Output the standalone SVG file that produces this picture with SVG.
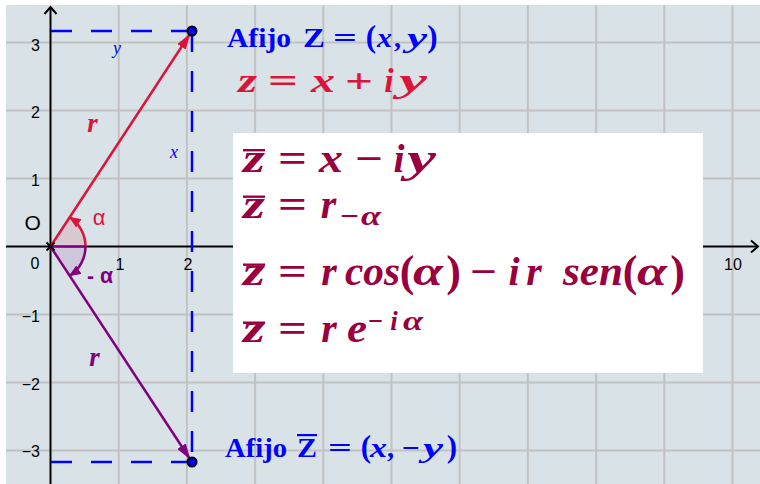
<svg xmlns="http://www.w3.org/2000/svg" width="760" height="484" viewBox="0 0 760 484">
<defs>
<style>
.grid{stroke:#c2c2c2;stroke-width:2;fill:none}
.axis{stroke:#000;stroke-width:2;fill:none}
.dash{stroke:#0000ff;stroke-width:2.5;fill:none;stroke-dasharray:21 19}
.ax{font-family:"Liberation Sans",Arial,sans-serif;font-size:16px;fill:#000}
.m{font-family:"Liberation Serif","Times New Roman",serif;font-weight:bold;font-style:italic}
.u{font-family:"Liberation Serif","Times New Roman",serif;font-weight:bold;font-style:normal}
.c{text-anchor:middle}
.blue{fill:#0000ff}
.red{fill:#dc143c}
.dk{fill:#99003d}
.pur{fill:#800080}
</style>
<marker id="ahR" viewBox="0 0 16 10" refX="15" refY="5" markerWidth="16" markerHeight="10" markerUnits="userSpaceOnUse" orient="auto"><path d="M0,0 L16,5 L0,10 Z" fill="#dc143c"/></marker>
<marker id="ahP" viewBox="0 0 16 10" refX="15" refY="5" markerWidth="16" markerHeight="10" markerUnits="userSpaceOnUse" orient="auto"><path d="M0,0 L16,5 L0,10 Z" fill="#800080"/></marker>
<marker id="arR" viewBox="0 0 12 10" refX="11" refY="5" markerWidth="12" markerHeight="10" markerUnits="userSpaceOnUse" orient="auto"><path d="M0,0 L12,5 L0,10 Z" fill="#dc143c"/></marker>
<marker id="arP" viewBox="0 0 12 10" refX="11" refY="5" markerWidth="12" markerHeight="10" markerUnits="userSpaceOnUse" orient="auto"><path d="M0,0 L12,5 L0,10 Z" fill="#800080"/></marker>
</defs>
<rect x="0" y="0" width="760" height="484" fill="#ffffff"/>
<rect x="6" y="5" width="754" height="479" fill="#d9e3e7"/>
<g id="grid" class="grid">
<path d="M118.7,5V484M186.9,5V484M255.1,5V484M323.3,5V484M391.5,5V484M459.7,5V484M527.9,5V484M596.1,5V484M664.3,5V484M732.5,5V484"/>
<path d="M6,42.5H760M6,110.5H760M6,178.5H760M6,314.5H760M6,382.5H760M6,450.5H760"/>
</g>
<g id="angle-sectors">
<path d="M50.5,246.5 L85.5,246.5 A35,35 0 0,0 69.7,217.2 Z" fill="#dc143c" fill-opacity="0.12"/>
<path d="M50.5,246.5 L85.5,246.5 A35,35 0 0,1 69.7,275.8 Z" fill="#800080" fill-opacity="0.12"/>
</g>
<g id="axes">
<path class="axis" d="M6,246.5H758"/>
<path class="axis" d="M751,240.5 L758,246.5 L751,252.5"/>
<path class="axis" d="M50.5,484V7"/>
<path class="axis" d="M44.5,14 L50.5,7 L56.5,14"/>
<g class="ax">
<text x="40" y="51" text-anchor="end">3</text>
<text x="40" y="118" text-anchor="end">2</text>
<text x="40" y="186" text-anchor="end">1</text>
<text x="40" y="322" text-anchor="end">−1</text>
<text x="40" y="390" text-anchor="end">−2</text>
<text x="40" y="457" text-anchor="end">−3</text>
<text x="35" y="269" class="c">0</text>
<text x="120" y="270" class="c">1</text>
<text x="188" y="270" class="c">2</text>
<text x="733" y="270" class="c">10</text>
<text x="24.5" y="230" style="font-size:21px">O</text>
</g>
</g>
<g id="connectors">
<path class="dash" d="M192,31H50.5"/>
<path class="dash" d="M192,31V462"/>
<path class="dash" d="M192,462H50.5"/>
<line x1="50.5" y1="246.5" x2="189.8" y2="34.3" stroke="#dc143c" stroke-width="2.5" marker-end="url(#ahR)"/>
<line x1="50.5" y1="246.5" x2="189.8" y2="458.7" stroke="#800080" stroke-width="2.5" marker-end="url(#ahP)"/>
<path d="M85.5,246.5 A35,35 0 0,0 69.7,217.2" fill="none" stroke="#dc143c" stroke-width="2.5" marker-end="url(#arR)"/>
<path d="M85.5,246.5 A35,35 0 0,1 69.7,275.8" fill="none" stroke="#800080" stroke-width="2.5" marker-end="url(#arP)"/>
<line x1="52" y1="246.5" x2="85.5" y2="246.5" stroke="#800080" stroke-width="2"/>
</g>
<g id="origin">
<path d="M46.5,242.5L54.5,250.5M54.5,242.5L46.5,250.5" stroke="#000" stroke-width="2"/>
</g>
<g id="point-Z">
<circle cx="192" cy="31" r="4.5" fill="#0000ff" stroke="#000" stroke-width="2"/>
</g>
<g id="point-Zbar">
<circle cx="192" cy="462" r="4.5" fill="#0000ff" stroke="#000" stroke-width="2"/>
</g>
<g id="labels">
<text x="117" y="54" class="c blue" style="font-family:'Liberation Serif',serif;font-style:italic;font-size:18px">y</text>
<text x="174" y="158" class="c blue" style="font-family:'Liberation Serif',serif;font-style:italic;font-size:18px">x</text>
<text x="92.5" y="132" class="m c red" style="font-size:27px">r</text>
<text x="94.5" y="366" class="m c pur" style="font-size:27px">r</text>
<text x="99" y="225" class="c red" style="font-family:'Liberation Sans',Arial,sans-serif;font-size:22px">α</text>
<text x="87" y="283" class="pur" style="font-family:'Liberation Sans',Arial,sans-serif;font-size:22px;font-weight:bold" textLength="26" lengthAdjust="spacingAndGlyphs">- α</text>
</g>
<g id="label-Z" class="blue" style="font-size:28px">
<text x="227" y="47" class="u" textLength="64" lengthAdjust="spacingAndGlyphs">Afijo</text>
<text x="303" y="47" class="u" textLength="22" lengthAdjust="spacingAndGlyphs">Z</text>
<text x="333" y="47" class="u" textLength="24" lengthAdjust="spacingAndGlyphs">=</text>
<text x="371" y="47" class="u c" style="font-size:31px">(</text>
<text x="377" y="47" class="m" textLength="15" lengthAdjust="spacingAndGlyphs">x</text>
<text x="397.5" y="47" class="u c">,</text>
<text x="407" y="47" class="m" textLength="20" lengthAdjust="spacingAndGlyphs">y</text>
<text x="432.5" y="47" class="u c" style="font-size:31px">)</text>
</g>
<g id="formula-z" class="red" style="font-size:34px">
<text x="238" y="92" class="m" textLength="19" lengthAdjust="spacingAndGlyphs">z</text>
<text x="268" y="92" class="u" textLength="30" lengthAdjust="spacingAndGlyphs">=</text>
<text x="311" y="92" class="m" textLength="24" lengthAdjust="spacingAndGlyphs">x</text>
<text x="345" y="92" class="u" textLength="28" lengthAdjust="spacingAndGlyphs">+</text>
<text x="389" y="92" class="m c">i</text>
<text x="399" y="92" class="m" textLength="28" lengthAdjust="spacingAndGlyphs">y</text>
</g>
<g id="label-Zbar" class="blue" style="font-size:28px">
<text x="225" y="457" class="u" textLength="62" lengthAdjust="spacingAndGlyphs">Afijo</text>
<rect x="297" y="434" width="20" height="2.2" fill="#0000ff"/>
<text x="297" y="457" class="u" textLength="20" lengthAdjust="spacingAndGlyphs">Z</text>
<text x="328" y="457" class="u" textLength="24" lengthAdjust="spacingAndGlyphs">=</text>
<text x="366" y="457" class="u c" style="font-size:31px">(</text>
<text x="370" y="457" class="m" textLength="17" lengthAdjust="spacingAndGlyphs">x</text>
<text x="390.5" y="457" class="u c">,</text>
<text x="402" y="457" class="u" textLength="18" lengthAdjust="spacingAndGlyphs">−</text>
<text x="423" y="457" class="m" textLength="20" lengthAdjust="spacingAndGlyphs">y</text>
<text x="452" y="457" class="u c" style="font-size:31px">)</text>
</g>
<g id="formula-box">
<rect x="233" y="133" width="470" height="240" fill="#ffffff"/>
<g class="dk" style="font-size:40px">
<rect x="243" y="149" width="22" height="2.4"/>
<text x="243" y="172" class="m" textLength="22" lengthAdjust="spacingAndGlyphs">z</text>
<text x="278" y="172" class="u" textLength="29" lengthAdjust="spacingAndGlyphs">=</text>
<text x="319" y="172" class="m" textLength="24" lengthAdjust="spacingAndGlyphs">x</text>
<text x="355" y="172" class="u" textLength="28" lengthAdjust="spacingAndGlyphs">−</text>
<text x="399" y="172" class="m c">i</text>
<text x="407" y="172" class="m" textLength="29" lengthAdjust="spacingAndGlyphs">y</text>

<rect x="243" y="195.5" width="22" height="2.4"/>
<text x="243" y="218" class="m" textLength="22" lengthAdjust="spacingAndGlyphs">z</text>
<text x="278" y="218" class="u" textLength="29" lengthAdjust="spacingAndGlyphs">=</text>
<text x="328.5" y="218" class="m c">r</text>
<text x="340" y="225" class="u" style="font-size:27px" textLength="19" lengthAdjust="spacingAndGlyphs">−</text>
<text x="361" y="225" class="m" style="font-size:28px" textLength="20" lengthAdjust="spacingAndGlyphs">α</text>

<rect x="243" y="263.5" width="22" height="2.4"/>
<text x="243" y="285" class="m" textLength="22" lengthAdjust="spacingAndGlyphs">z</text>
<text x="278" y="285" class="u" textLength="29" lengthAdjust="spacingAndGlyphs">=</text>
<text x="329" y="285" class="m c">r</text>
<text x="345" y="285" class="m" textLength="55" lengthAdjust="spacingAndGlyphs">cos</text>
<text x="407" y="286" class="u c" style="font-size:44px">(</text>
<text x="413" y="285" class="m" textLength="30" lengthAdjust="spacingAndGlyphs">α</text>
<text x="453.5" y="286" class="u c" style="font-size:44px">)</text>
<text x="470" y="285" class="u" textLength="27" lengthAdjust="spacingAndGlyphs">−</text>
<text x="514" y="285" class="m c">i</text>
<text x="534" y="285" class="m c">r</text>
<text x="563" y="285" class="m" textLength="60" lengthAdjust="spacingAndGlyphs">sen</text>
<text x="630" y="286" class="u c" style="font-size:44px">(</text>
<text x="637" y="285" class="m" textLength="30" lengthAdjust="spacingAndGlyphs">α</text>
<text x="677.5" y="286" class="u c" style="font-size:44px">)</text>

<rect x="243" y="321.5" width="22" height="2.4"/>
<text x="243" y="342" class="m" textLength="22" lengthAdjust="spacingAndGlyphs">z</text>
<text x="278" y="342" class="u" textLength="29" lengthAdjust="spacingAndGlyphs">=</text>
<text x="329" y="342" class="m c">r</text>
<text x="347" y="342" class="m" textLength="20" lengthAdjust="spacingAndGlyphs">e</text>
<text x="368" y="330" class="u" style="font-size:27px" textLength="15" lengthAdjust="spacingAndGlyphs">−</text>
<text x="394" y="330" class="m c" style="font-size:27px">i</text>
<text x="403" y="330" class="m" style="font-size:27px" textLength="20" lengthAdjust="spacingAndGlyphs">α</text>
</g>
</g>
</svg>
